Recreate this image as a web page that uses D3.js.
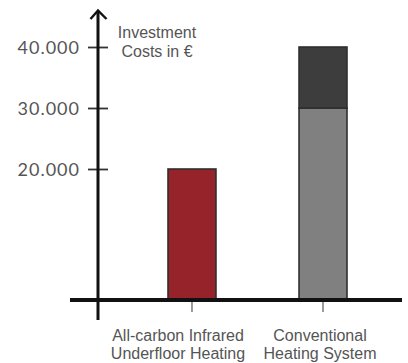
<!DOCTYPE html>
<html>
<head>
<meta charset="utf-8">
<script src="https://cdn.jsdelivr.net/npm/d3@7"></script>
<style>
  html, body { margin: 0; padding: 0; background: #fff; }
  svg { display: block; }
</style>
</head>
<body>
<svg id="chart" width="408" height="363"></svg>
<script>
// Investment cost comparison
const categories = ["All-carbon Infrared\nUnderfloor Heating", "Conventional\nHeating System"];
const baseValues = [20000, 30000];   // lower segment of each bar
const extraValues = [0, 10000];      // stacked upper segment
const tickValues = [20000, 30000, 40000];
const axisTitle = ["Investment", "Costs in €"];

const baseColors = ["#952329", "#808080"];
const extraColor = "#3d3d3d";
const labelShift = [-14, -3];        // category labels sit slightly left of their ticks

const svg = d3.select("#chart");

const axisX = 98;        // vertical axis position
const baselineY = 300;   // horizontal axis position

const y = d3.scaleLinear().domain([0, 40000]).range([291, 47]);
const x = d3.scaleBand().domain(categories).range([102.5, 412.5]).paddingInner(0.634).paddingOuter(0.5);

const locale = d3.formatLocale({ decimal: ",", thousands: ".", grouping: [3] });
const fmt = locale.format(",.3~f");

// Bars
const g = svg.append("g");
categories.forEach((c, i) => {
  const bx = x(c), bw = x.bandwidth();
  g.append("rect")
    .attr("x", bx).attr("y", y(baseValues[i]))
    .attr("width", bw).attr("height", baselineY - y(baseValues[i]))
    .attr("fill", baseColors[i]).attr("stroke", "#2e2e2e").attr("stroke-width", 1.6);
  if (extraValues[i] > 0) {
    const top = baseValues[i] + extraValues[i];
    g.append("rect")
      .attr("x", bx).attr("y", y(top))
      .attr("width", bw).attr("height", y(baseValues[i]) - y(top))
      .attr("fill", extraColor).attr("stroke", "#2e2e2e").attr("stroke-width", 1.6);
  }
});

// Category ticks and labels under the axis
const xAxis = d3.axisBottom(x).tickSize(12).tickFormat("");
const xg = svg.append("g").attr("transform", `translate(0,${baselineY})`).call(xAxis);
xg.select(".domain").remove();
xg.selectAll(".tick line").attr("stroke", "#666").attr("stroke-width", 1.3);

categories.forEach((c, i) => {
  const cx = x(c) + x.bandwidth() / 2 + labelShift[i];
  const t = svg.append("text")
    .attr("y", 341)
    .attr("text-anchor", "middle")
    .attr("font-family", "Liberation Sans, Arial, sans-serif")
    .attr("font-size", 16)
    .attr("fill", "#555");
  c.split("\n").forEach((l, j) => {
    t.append("tspan").attr("x", cx).attr("dy", j === 0 ? 0 : 17.5).text(l);
  });
});

// Horizontal axis line
svg.append("line")
  .attr("x1", 70).attr("x2", 402)
  .attr("y1", baselineY).attr("y2", baselineY)
  .attr("stroke", "#111").attr("stroke-width", 4);

// Vertical axis with value ticks crossing it
const yAxis = d3.axisLeft(y).tickValues(tickValues).tickSize(10).tickPadding(8).tickFormat(fmt);
const yg = svg.append("g").attr("transform", `translate(${axisX},0)`).call(yAxis);
yg.select(".domain").remove();
yg.selectAll(".tick line").attr("x1", -10).attr("x2", 10).attr("stroke", "#333").attr("stroke-width", 1.8);
yg.selectAll(".tick text")
  .attr("font-family", "Lato, sans-serif")
  .attr("font-size", 18)
  .attr("letter-spacing", 1)
  .attr("fill", "#555")
  .attr("dy", "0.36em");

svg.append("line")
  .attr("x1", axisX).attr("x2", axisX)
  .attr("y1", 11).attr("y2", 320)
  .attr("stroke", "#111").attr("stroke-width", 3);

// Arrow head
svg.append("path")
  .attr("d", `M${axisX - 7.5},19 L${axisX},10.5 L${axisX + 8.5},19`)
  .attr("fill", "none").attr("stroke", "#111").attr("stroke-width", 2.4);

// Axis title
const title = svg.append("text")
  .attr("x", 157).attr("y", 37.5)
  .attr("text-anchor", "middle")
  .attr("font-family", "Liberation Sans, Arial, sans-serif")
  .attr("font-size", 16)
  .attr("fill", "#555");
axisTitle.forEach((l, j) => title.append("tspan").attr("x", 157).attr("dy", j === 0 ? 0 : 19).text(l));
</script>
</body>
</html>
